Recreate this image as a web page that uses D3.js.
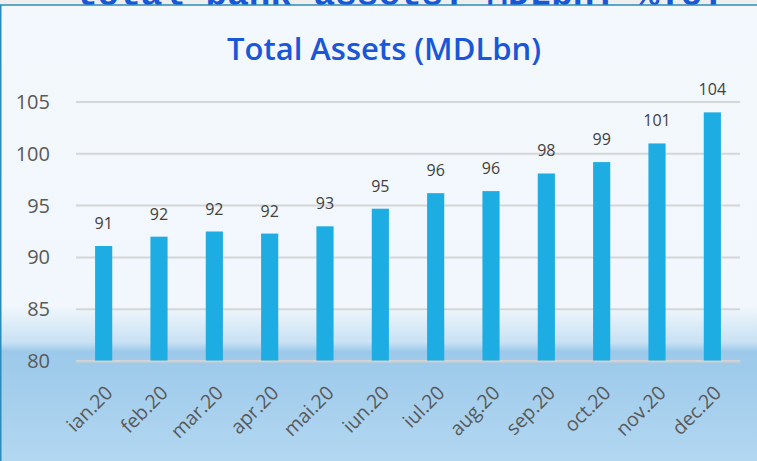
<!DOCTYPE html>
<html>
<head>
<meta charset="utf-8">
<script src="https://cdn.jsdelivr.net/npm/d3@7"></script>
<style>
  html, body { margin: 0; padding: 0; background: #eeeeee; }
  svg { display: block; font-family: "Open Sans", "Noto Sans", sans-serif; }
</style>
</head>
<body>
<div id="chart"></div>
<script>
const months = ["ian.20", "feb.20", "mar.20", "apr.20", "mai.20", "iun.20",
                "iul.20", "aug.20", "sep.20", "oct.20", "nov.20", "dec.20"];
const assets = [91.1, 92.0, 92.5, 92.3, 93.0, 94.7, 96.2, 96.4, 98.1, 99.2, 101.0, 104.0];
const labels = ["91", "92", "92", "92", "93", "95", "96", "96", "98", "99", "101", "104"];
const yTicks = [80, 85, 90, 95, 100, 105];

const W = 757, H = 461;
const margin = { top: 102, right: 17, bottom: 100, left: 76 };

const svg = d3.select("#chart").append("svg")
  .attr("width", W).attr("height", H);

const defs = svg.append("defs");
const grad = defs.append("linearGradient")
  .attr("id", "bg").attr("x1", 0).attr("y1", 0).attr("x2", 0).attr("y2", 1);
[[0, "#f3f8fd"], [0.66, "#f1f7fc"], [0.74, "#c8e1f4"], [0.76, "#9cc9ea"], [1, "#b2d7f1"]]
  .forEach(([o, c]) => grad.append("stop").attr("offset", o).attr("stop-color", c));

// page heading, mostly hidden behind the panel
svg.append("text")
  .attr("x", 400).attr("y", 5)
  .attr("text-anchor", "middle")
  .attr("font-family", "Liberation Mono, monospace")
  .attr("font-weight", 700)
  .attr("font-size", 36)
  .attr("fill", "#1a56d8")
  .text("total bank assets. MDLbn. %YoY");

// panel
svg.append("rect")
  .attr("x", 0).attr("y", 5).attr("width", W).attr("height", H - 5)
  .attr("fill", "url(#bg)");
svg.append("line").attr("x1", 0).attr("x2", W).attr("y1", 5).attr("y2", 5)
  .attr("stroke", "#2b8cbc").attr("stroke-width", 1.5);
svg.append("line").attr("x1", 0.75).attr("x2", 0.75).attr("y1", 5).attr("y2", H)
  .attr("stroke", "#2b8cbc").attr("stroke-width", 1.5);

svg.append("text")
  .attr("x", 384).attr("y", 60)
  .attr("text-anchor", "middle")
  .attr("font-size", 31)
  .attr("font-weight", 600)
  .attr("fill", "#1a56d8")
  .text("Total Assets (MDLbn)");

const x = d3.scaleBand()
  .domain(months)
  .range([margin.left, W - margin.right])
  .paddingInner(0.69)
  .paddingOuter(0.345);

const y = d3.scaleLinear()
  .domain([80, 105])
  .range([H - margin.bottom, margin.top]);

// gridlines
svg.append("g")
  .selectAll("line")
  .data(yTicks)
  .join("line")
  .attr("x1", margin.left).attr("x2", W - margin.right)
  .attr("y1", d => y(d)).attr("y2", d => y(d))
  .attr("stroke", "#d6d6d6").attr("stroke-width", 2);

// y axis
const yAxis = svg.append("g")
  .attr("transform", `translate(${margin.left - 23},0)`)
  .call(d3.axisLeft(y).tickValues(yTicks).tickSize(0))
  .call(g => g.select(".domain").remove());
yAxis.selectAll("text")
  .attr("font-size", 20).attr("fill", "#595959")
  .attr("font-family", "Open Sans, sans-serif");

// bars
svg.append("g")
  .selectAll("rect")
  .data(assets)
  .join("rect")
  .attr("x", (d, i) => x(months[i]))
  .attr("width", x.bandwidth())
  .attr("y", d => y(d))
  .attr("height", d => y(80) - y(d))
  .attr("fill", "#1eade3");

// value labels
svg.append("g")
  .selectAll("text")
  .data(assets)
  .join("text")
  .attr("x", (d, i) => x(months[i]) + x.bandwidth() / 2)
  .attr("y", d => y(d) - 17)
  .attr("text-anchor", "middle")
  .attr("font-size", 16)
  .attr("fill", "#404040")
  .text((d, i) => labels[i]);

// x axis
const xAxis = svg.append("g")
  .attr("transform", `translate(0,${H - margin.bottom})`)
  .call(d3.axisBottom(x).tickSize(0).tickSizeOuter(0));
xAxis.select(".domain").attr("stroke", "#d0d0d0").attr("stroke-width", 2);
xAxis.selectAll("text")
  .attr("font-size", 19.5).attr("fill", "#595959")
  .attr("font-family", "Open Sans, sans-serif")
  .attr("text-anchor", "end")
  .attr("dy", 0)
  .attr("transform", "translate(8,31) rotate(-45)");
</script>
</body>
</html>
